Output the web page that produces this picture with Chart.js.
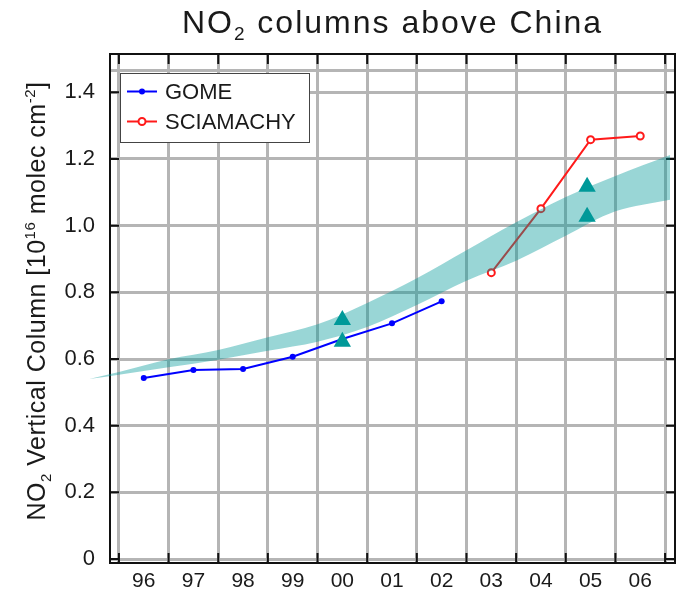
<!DOCTYPE html>
<html>
<head>
<meta charset="utf-8">
<title>NO2 columns above China</title>
<script src="https://cdn.jsdelivr.net/npm/chart.js@4.4.0/dist/chart.umd.min.js"></script>
<style>
  html, body { margin: 0; padding: 0; background: #fff; }
  #wrap { width: 679px; height: 599px; }
</style>
</head>
<body>
<div id="wrap"><canvas id="no2Chart" width="679" height="599"></canvas></div>
<script>
const FONT = '"Liberation Sans", Arial, Helvetica, sans-serif';

// GOME yearly means
const gomeYears = [1996, 1997, 1998, 1999, 2000, 2001, 2002];
const gomeValues = [0.543, 0.567, 0.570, 0.607, 0.660, 0.707, 0.773];

// SCIAMACHY yearly means
const sciaYears = [2003, 2004, 2005, 2006];
const sciaValues = [0.859, 1.051, 1.258, 1.269];

// teal triangles
const triYears = [2000, 2000, 2004.93, 2004.93];
const triValues = [0.717, 0.652, 1.117, 1.027];

// shaded band (upper / lower edge)
const bandYears = [1994.9, 1995.5, 1996.5, 1997.5, 1998.5, 1999.5, 2000.5, 2001.5, 2002.5, 2003.5, 2004.5, 2005.5, 2006.6];
const bandUpper = [0.540, 0.561, 0.599, 0.627, 0.665, 0.704, 0.768, 0.842, 0.926, 1.010, 1.086, 1.149, 1.212];
const bandLower = [0.540, 0.553, 0.575, 0.598, 0.625, 0.652, 0.696, 0.762, 0.835, 0.895, 0.970, 1.043, 1.078];

// axes
const yearEdges = [1995.5, 1996.5, 1997.5, 1998.5, 1999.5, 2000.5, 2001.5, 2002.5, 2003.5, 2004.5, 2005.5, 2006.5];
const yearTicks = [1996, 1997, 1998, 1999, 2000, 2001, 2002, 2003, 2004, 2005, 2006];
const yearLabels = ['96', '97', '98', '99', '00', '01', '02', '03', '04', '05', '06'];
const yTicks = [0, 0.2, 0.4, 0.6, 0.8, 1.0, 1.2, 1.4];
const yTickLabels = ['0', '0.2', '0.4', '0.6', '0.8', '1.0', '1.2', '1.4'];
const yGridTop = 1.466;

const toPoints = (xs, ys) => xs.map((x, i) => ({ x: x, y: ys[i] }));

// draws a list of [text, scale, shift] runs one after another
function drawRuns(ctx, runs, size, x, y, spacing) {
  runs.forEach(r => {
    ctx.font = Math.round(size * r[1]) + 'px ' + FONT;
    ctx.letterSpacing = spacing + 'px';
    ctx.fillText(r[0], x, y + r[2] * size);
    x += ctx.measureText(r[0]).width;
  });
}
function runsWidth(ctx, runs, size, spacing) {
  let w = 0;
  runs.forEach(r => {
    ctx.font = Math.round(size * r[1]) + 'px ' + FONT;
    ctx.letterSpacing = spacing + 'px';
    w += ctx.measureText(r[0]).width;
  });
  return w;
}

const titleRuns = [['NO', 1, 0], ['2', 0.6, 0.22], [' columns above China', 1, 0]];
const yTitleRuns = [['NO', 1, 0], ['2', 0.6, 0.22], [' Vertical Column [10', 1, 0], ['16', 0.6, -0.42],
  [' molec cm', 1, 0], ['-2', 0.6, -0.42], [']', 1, 0]];

const textPlugin = {
  id: 'richText',
  afterDraw(chart) {
    const ctx = chart.ctx;
    const a = chart.chartArea;
    ctx.save();
    ctx.fillStyle = '#1a1a1a';
    ctx.textBaseline = 'alphabetic';
    ctx.textAlign = 'left';
    // title
    const tw = runsWidth(ctx, titleRuns, 32, 2);
    drawRuns(ctx, titleRuns, 32, (a.left + a.right) / 2 - tw / 2, 33, 2);
    // y axis title
    const yw = runsWidth(ctx, yTitleRuns, 25, 0.5);
    ctx.translate(45, 301);
    ctx.rotate(-Math.PI / 2);
    drawRuns(ctx, yTitleRuns, 25, -yw / 2, 0, 0.5);
    ctx.restore();
  }
};

const framePlugin = {
  id: 'frame',
  beforeDatasetsDraw(chart) {
    const { ctx, chartArea: a, scales } = chart;
    ctx.save();
    ctx.strokeStyle = '#111';
    ctx.lineWidth = 2;
    ctx.strokeRect(a.left, a.top, a.right - a.left, a.bottom - a.top);
    ctx.beginPath();
    yTicks.forEach(v => {
      const py = scales.y.getPixelForValue(v);
      ctx.moveTo(a.left, py); ctx.lineTo(a.left + 9, py);
      ctx.moveTo(a.right, py); ctx.lineTo(a.right - 9, py);
    });
    yearEdges.forEach(v => {
      const px = scales.x.getPixelForValue(v);
      ctx.moveTo(px, a.top); ctx.lineTo(px, a.top + 10);
      ctx.moveTo(px, a.bottom); ctx.lineTo(px, a.bottom - 10);
    });
    ctx.stroke();
    ctx.restore();
  }
};

// the shaded band starts left of the y axis, so let the fill run past the plot area
const bandClipPlugin = {
  id: 'bandClip',
  beforeDatasetsDraw(chart) {
    this._area = chart.chartArea;
    chart.chartArea = Object.assign({}, this._area, { left: 0 });
  },
  afterDatasetsDraw(chart) {
    chart.chartArea = this._area;
  }
};

const legendPlugin = {
  id: 'boxLegend',
  afterDraw(chart) {
    const ctx = chart.ctx;
    ctx.save();
    ctx.fillStyle = '#fff';
    ctx.fillRect(120, 73, 189, 69);
    ctx.strokeStyle = '#444';
    ctx.lineWidth = 1;
    ctx.strokeRect(120.5, 73.5, 189, 69);
    [0, 1].forEach(i => {
      const ds = chart.data.datasets[i];
      const y = 91.5 + i * 30;
      ctx.strokeStyle = ds.borderColor;
      ctx.lineWidth = ds.borderWidth;
      ctx.beginPath();
      ctx.moveTo(127, y); ctx.lineTo(157, y);
      ctx.stroke();
      ctx.beginPath();
      ctx.arc(142, y, ds.pointRadius, 0, Math.PI * 2);
      ctx.fillStyle = ds.pointBackgroundColor;
      ctx.fill();
      if (ds.pointBorderWidth) { ctx.lineWidth = ds.pointBorderWidth; ctx.stroke(); }
      ctx.fillStyle = '#1a1a1a';
      ctx.font = '22px ' + FONT;
      ctx.textBaseline = 'middle';
      ctx.fillText(ds.label, 165, y + 1);
    });
    ctx.restore();
  }
};

const noPad = axis => { axis.paddingLeft = 0; axis.paddingRight = 0; axis.paddingTop = 0; axis.paddingBottom = 0; };

const ctx = document.getElementById('no2Chart').getContext('2d');
new Chart(ctx, {
  type: 'line',
  data: {
    datasets: [
      {
        label: 'GOME', data: toPoints(gomeYears, gomeValues),
        borderColor: '#0000ff', pointBackgroundColor: '#0000ff', pointBorderColor: '#0000ff',
        borderWidth: 2, pointRadius: 3, pointBorderWidth: 0, tension: 0, order: 3
      },
      {
        label: 'SCIAMACHY', data: toPoints(sciaYears, sciaValues),
        borderColor: '#ff1a1a', pointBackgroundColor: '#ffffff', pointBorderColor: '#ff1a1a',
        borderWidth: 2, pointRadius: 3.5, pointBorderWidth: 2, tension: 0, order: 3
      },
      {
        label: 'band upper', data: toPoints(bandYears, bandUpper),
        borderColor: 'rgba(0,0,0,0)', borderWidth: 0, pointRadius: 0, fill: false,
        cubicInterpolationMode: 'monotone', clip: false, order: 2
      },
      {
        label: 'band lower', data: toPoints(bandYears, bandLower),
        borderColor: 'rgba(0,0,0,0)', borderWidth: 0, pointRadius: 0, fill: '-1',
        backgroundColor: 'rgba(0,153,153,0.4)', cubicInterpolationMode: 'monotone', clip: false, order: 2
      },
      {
        label: 'triangles', data: toPoints(triYears, triValues), showLine: false,
        pointStyle: 'triangle', pointRadius: 10, pointBackgroundColor: '#009999',
        pointBorderWidth: 0, pointBorderColor: '#009999', order: 1
      }
    ]
  },
  options: {
    responsive: false,
    animation: false,
    devicePixelRatio: 1,
    events: [],
    layout: { autoPadding: false, padding: { top: 54, right: 4, left: 0, bottom: 0 } },
    plugins: {
      legend: { display: false },
      tooltip: { enabled: false },
      title: { display: false }
    },
    scales: {
      x: {
        type: 'linear', position: 'bottom', min: 1995.32, max: 2006.7,
        afterBuildTicks: axis => { axis.ticks = yearEdges.map(v => ({ value: v })); },
        afterFit: axis => { axis.height = 0; noPad(axis); },
        ticks: { display: false },
        grid: { color: '#b5b5b5', lineWidth: 3, drawTicks: false },
        border: { display: false }
      },
      xLabels: {
        type: 'linear', position: 'bottom', min: 1995.32, max: 2006.7,
        afterBuildTicks: axis => { axis.ticks = yearTicks.map(v => ({ value: v })); },
        afterFit: axis => { axis.height = 36; noPad(axis); },
        ticks: {
          callback: (v, i) => yearLabels[i],
          font: { family: FONT, size: 21 }, color: '#1a1a1a',
          padding: 6, maxRotation: 0, autoSkip: false
        },
        grid: { display: false, drawTicks: false },
        border: { display: false }
      },
      y: {
        type: 'linear', min: -0.012, max: 1.515,
        afterBuildTicks: axis => { axis.ticks = yTicks.concat([yGridTop]).map(v => ({ value: v })); },
        afterFit: axis => { axis.width = 110; noPad(axis); },
        ticks: {
          callback: (v, i) => (i < yTickLabels.length ? yTickLabels[i] : ''),
          font: { family: FONT, size: 22 }, color: '#1a1a1a', padding: 15, autoSkip: false
        },
        grid: { color: '#b5b5b5', lineWidth: 3, drawTicks: false },
        border: { display: false }
      }
    }
  },
  plugins: [framePlugin, bandClipPlugin, textPlugin, legendPlugin]
});
</script>
</body>
</html>
